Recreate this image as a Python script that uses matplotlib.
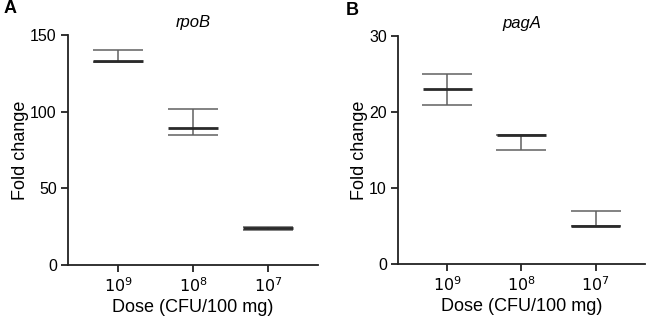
import matplotlib.pyplot as plt
import numpy as np

plt.rcParams['font.family'] = ['Liberation Sans', 'DejaVu Sans']

doses = ['$10^9$', '$10^8$', '$10^7$']

# rpoB
rpob_mean = [133, 89, 24]
rpob_low = [132, 85, 23]
rpob_high = [140, 102, 25]

# pagA
paga_mean = [23, 17, 5]
paga_low = [21, 15, 5]
paga_high = [25, 17, 7]

fig = plt.figure(figsize=(6.47, 3.17), dpi=100)
axA = fig.add_axes([0.105, 0.164, 0.3865, 0.726])
axB = fig.add_axes([0.615, 0.167, 0.382, 0.719])


def panel(ax, mean, low, high, ymax, step, title):
    x = np.arange(len(mean))
    mean = np.array(mean)
    err = [mean - np.array(low), np.array(high) - mean]
    ax.errorbar(x, mean, yerr=err, fmt='none', ecolor='#606060',
                elinewidth=1.1, capsize=18, capthick=1.1)
    ax.hlines(mean, x - 0.333, x + 0.333, colors='#2a2a2a', linewidth=2)
    ax.set_xlim(-0.667, 2.667)
    ax.set_ylim(0, ymax)
    ax.set_yticks(np.arange(0, ymax + 1, step))
    ax.set_xticks(x)
    ax.set_xticklabels(doses)
    for s in ['top', 'right']:
        ax.spines[s].set_visible(False)
    for s in ['left', 'bottom']:
        ax.spines[s].set_linewidth(1.3)
        ax.spines[s].set_color('#222222')
    ax.tick_params(axis='both', direction='out', length=5, width=1.3,
                   labelsize=11.5, color='#222222', pad=3)
    ax.set_xlabel('Dose (CFU/100 mg)', fontsize=13, labelpad=3)
    ax.set_ylabel('Fold change', fontsize=13, labelpad=1)
    ax.set_title(title, fontsize=12, style='italic', pad=6)


panel(axA, rpob_mean, rpob_low, rpob_high, 150, 50, 'rpoB')
panel(axB, paga_mean, paga_low, paga_high, 30, 10, 'pagA')

fig.text(0.005, 0.972, 'A', fontsize=13, fontweight='bold', va='center')
fig.text(0.535, 0.968, 'B', fontsize=13, fontweight='bold', va='center')

fig.savefig('out.png', dpi=100)
